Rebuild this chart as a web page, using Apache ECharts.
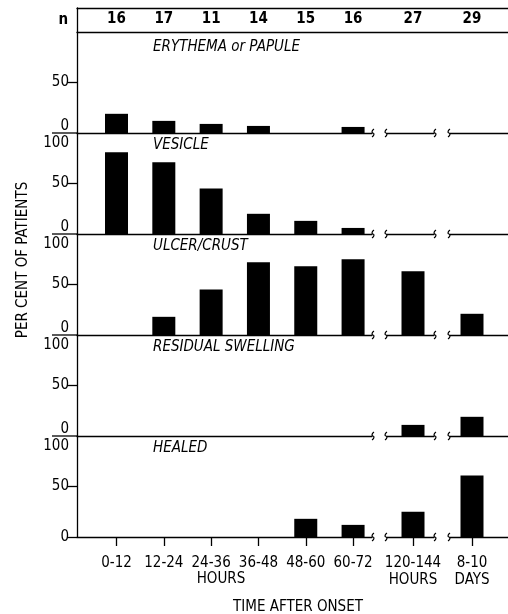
<!DOCTYPE html>
<html><head><meta charset="utf-8">
<script src="https://cdn.jsdelivr.net/npm/echarts@6/dist/echarts.min.js"></script>
<style>html,body{margin:0;padding:0;background:#fff}#c{width:508px;height:614px}</style>
</head><body><div id="c"></div>
<script>
// ---- data ----
const categories = ['0-12','12-24','24-36','36-48','48-60','60-72','120-144','8-10'];
const categoryUnits = ['', '', '', '', '', '', 'HOURS', 'DAYS'];
const nValues = [16,17,11,14,15,16,27,29];
const panelNames = ['ERYTHEMA or PAPULE','VESICLE','ULCER/CRUST','RESIDUAL SWELLING','HEALED'];
const erythema = [19,12,9,7,0,6,0,0];
const vesicle  = [81,71,45,20,13,6,0,0];
const ulcer    = [0,18,45,72,68,75,63,21];
const swelling = [0,0,0,0,0,0,11,19];
const healed   = [0,0,0,0,18,12,25,61];
const yTickValues = [0,50,100];

// ---- layout ----
const panels = [erythema, vesicle, ulcer, swelling, healed];
const FONT = "'Liberation Sans Narrow','DejaVu Sans Condensed','Liberation Sans',sans-serif";
const TOP0 = 32, PH = 101;
const segs = [
  {left:77,  width:295, min:-0.835, max:5.40,  idx:[0,1,2,3,4,5]},
  {left:387, width:47,  min:-0.55,  max:0.444, idx:[6]},
  {left:450, width:58,  min:-0.465, max:0.761, idx:[7]}
];
const LW = 1.3;
const line = {show:true, onZero:false, lineStyle:{color:'#000', width:LW}};

const grid=[], xAxis=[], yAxis=[], series=[], title=[], graphic=[];

// n box
grid.push({left:77, right:0, top:8, height:24});
xAxis.push({gridIndex:0, type:'value', min:0, max:1, position:'bottom', axisLine:line, axisTick:{show:false}, axisLabel:{show:false}, splitLine:{show:false}});
xAxis.push({gridIndex:0, type:'value', min:0, max:1, position:'top', axisLine:line, axisTick:{show:false}, axisLabel:{show:false}, splitLine:{show:false}});
yAxis.push({gridIndex:0, type:'value', min:0, max:1, position:'left', axisLine:line, axisTick:{show:false}, axisLabel:{show:false}, splitLine:{show:false},
  name:'n', nameLocation:'middle', nameRotate:0, nameGap:9, nameTextStyle:{fontFamily:FONT, fontSize:15, fontWeight:'bold', color:'#000'}});

panels.forEach((vals, p) => {
  const top = TOP0 + PH*p;
  const last = p === panels.length-1;
  title.push({text:panelNames[p], left:153, top: top + (p===0?8:5), padding:0,
    textStyle:{fontFamily:FONT, fontSize:15, fontStyle:'italic', fontWeight:'normal', color:'#000'}});
  segs.forEach((s, si) => {
    const g = grid.length;
    grid.push({left:s.left, width:s.width, top:top, height:PH});
    const xi = xAxis.length;
    const cv = s.idx.map((_,k)=>k);
    xAxis.push({gridIndex:g, type:'value', min:s.min, max:s.max, position:'bottom',
      axisLine:line,
      axisTick:{show:last, customValues:cv, length:9, lineStyle:{color:'#000', width:LW}},
      axisLabel:{show:last, customValues:cv, margin:18, fontFamily:FONT, fontSize:15, color:'#000', lineHeight:17,
        formatter:v=>{const c=s.idx[Math.round(v)]; return categoryUnits[c]?categories[c]+'\n'+categoryUnits[c]:categories[c];}},
      splitLine:{show:false}});
    if (p===0) {
      xAxis.push({gridIndex:g, type:'value', min:s.min, max:s.max, position:'top',
        axisLine:{show:false}, axisTick:{show:false},
        axisLabel:{customValues:cv, margin:5, fontFamily:FONT, fontSize:15, fontWeight:'bold', color:'#000',
          formatter:v=>String(nValues[s.idx[Math.round(v)]])},
        splitLine:{show:false}});
    }
    const yi = yAxis.length;
    if (si===0) {
      const labVals = p===0 ? [0,50] : yTickValues;
      yAxis.push({gridIndex:g, type:'value', min:0, max:100, position:'left', axisLine:line,
        axisTick:{customValues: last?[0,50]:[50], length:10, lineStyle:{color:'#000', width:LW}},
        axisLabel:{customValues:labVals, margin:8, fontFamily:FONT, fontSize:15, color:'#000',
          formatter:v=> v===0 ? (last?'{m|0}':'{lo|0}') : v===100 ? '{hi|100}' : '{m|'+v+'}',
          rich:{
            lo:{fontFamily:FONT, fontSize:15, color:'#000', padding:[0,0,13,0]},
            hi:{fontFamily:FONT, fontSize:15, color:'#000', padding:[20,0,0,0]},
            m:{fontFamily:FONT, fontSize:15, color:'#000'}
          }},
        splitLine:{show:false}});
    } else {
      yAxis.push({gridIndex:g, type:'value', min:0, max:100, show:false});
    }
    series.push({type:'bar', xAxisIndex:xi, yAxisIndex:yi, barWidth:23, silent:true,
      itemStyle:{color:'#000'},
      data: s.idx.map((c,k)=>[k, vals[c]])});
  });
  const by = top + PH;
  // long boundary tick between stacked panels
  if (!last) {
    graphic.push({type:'polyline', z:100, shape:{points:[[segs[0].left-25, by],[segs[0].left, by]]},
      style:{stroke:'#000', lineWidth:LW, fill:null}});
  }
  // axis-break squiggles at the baseline
  [segs[0].left+segs[0].width+1, segs[1].left-1, segs[1].left+segs[1].width+1, segs[2].left-1].forEach(x=>{
    graphic.push({type:'polyline', shape:{points:[[x+1,by-4],[x-1,by-1],[x+1,by+1],[x-1,by+4]], smooth:0.6},
      style:{stroke:'#000', lineWidth:1.2, fill:null}});
  });
});

graphic.push({type:'text', x:221, y:579, style:{text:'HOURS', font:"15px "+FONT, fill:'#000', textAlign:'center', textVerticalAlign:'middle'}});
graphic.push({type:'text', x:298, y:607, style:{text:'TIME AFTER ONSET', font:"15px "+FONT, fill:'#000', textAlign:'center', textVerticalAlign:'middle'}});
graphic.push({type:'text', x:23, y:260, rotation:Math.PI/2, style:{text:'PER CENT OF PATIENTS', font:"15px "+FONT, fill:'#000', textAlign:'center', textVerticalAlign:'middle'}});

const chart = echarts.init(document.getElementById('c'), null, {renderer:'canvas'});
chart.setOption({backgroundColor:'#fff', animation:false, title, grid, xAxis, yAxis, series, graphic});
</script></body></html>
